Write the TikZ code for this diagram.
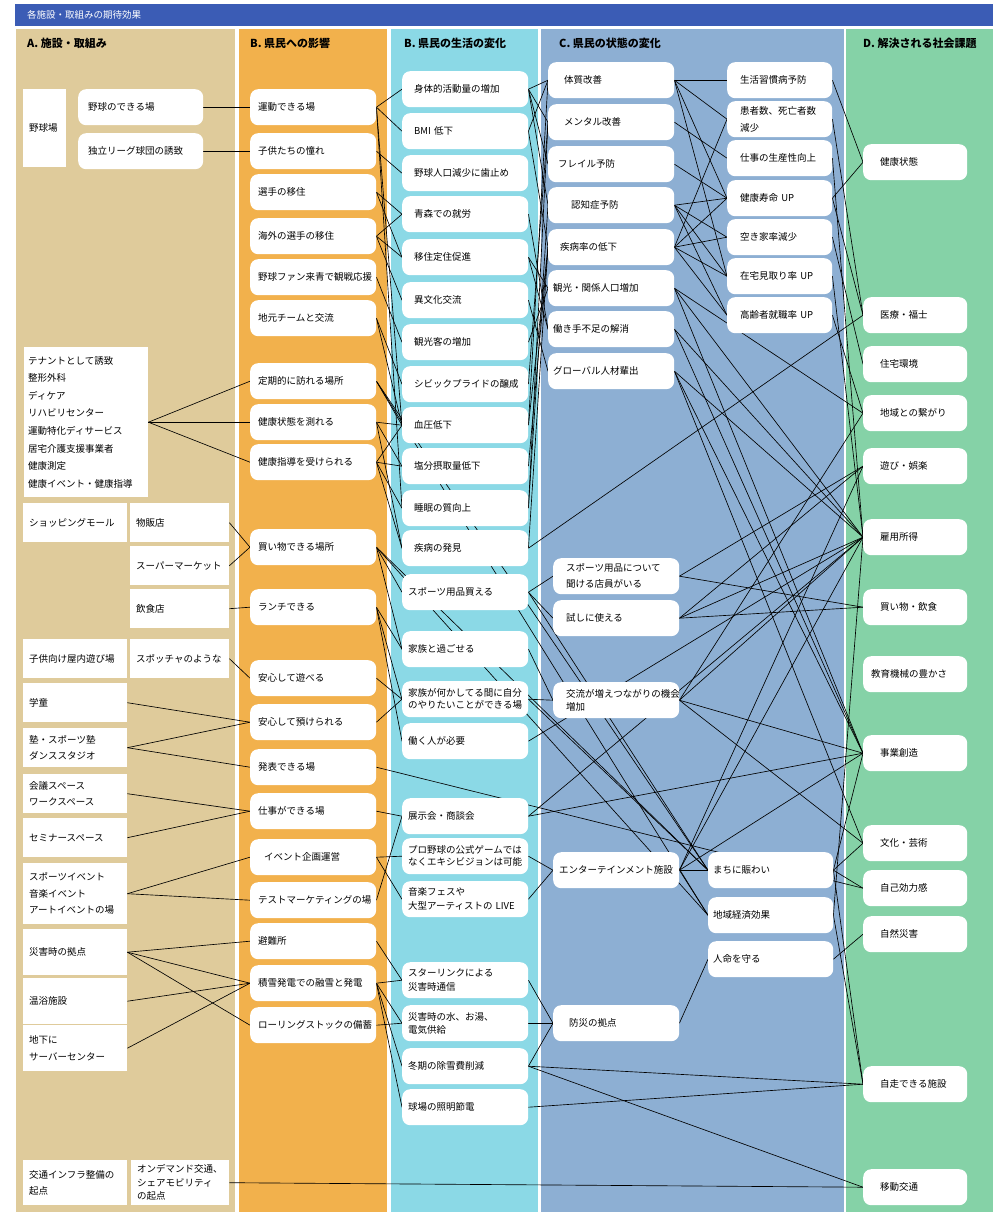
\documentclass[tikz,border=0pt]{standalone}
\usepackage{fontspec}
\setmainfont{Noto Sans CJK JP}

\definecolor{cBar}{RGB}{59,92,181}
\definecolor{cA}{RGB}{223,203,155}
\definecolor{cB}{RGB}{242,177,76}
\definecolor{cL}{RGB}{139,217,230}
\definecolor{cC}{RGB}{141,175,211}
\definecolor{cD}{RGB}{133,210,167}

\pgfdeclarelayer{bg}
\pgfdeclarelayer{wires}
\pgfsetlayers{bg,wires,main}

\tikzset{
  every node/.style={font=\fontsize{9.5}{13}\selectfont},
  sq/.style={fill=white, anchor=north west, align=left, inner ysep=1pt, inner xsep=6pt},
  rd/.style={sq, rounded corners=8pt, minimum height=36pt},
  boxA/.style={rd, text width=105pt, inner xsep=10pt},
  boxB/.style={rd, text width=110pt, inner xsep=8pt},
  boxL/.style={rd, text width=102pt, inner xsep=12pt},
  boxLb/.style={rd, text width=114pt, inner xsep=6pt},
  boxS/.style={rd, text width=116pt, inner xsep=5pt},
  boxR/.style={rd, text width=79pt, inner xsep=13pt},
  boxRb/.style={rd, text width=115pt, inner xsep=5pt},
  boxD/.style={rd, text width=70pt, inner xsep=17pt},
  head/.style={anchor=west, inner sep=0pt, font=\bfseries\fontsize{11}{12}\selectfont},
  sp/.style={font=\fontsize{9.5}{#1}\selectfont},
  wire/.style={line width=0.65pt}
}

\begin{document}
\begin{tikzpicture}[x=1pt, y=-1pt]
\useasboundingbox (0,0) rectangle (998,1212);

% columns
\begin{pgfonlayer}{bg}
\fill[cBar] (15,4) rectangle (993,26);
\fill[cA] (16,29) rectangle (235,1212);
\fill[cB] (239,29) rectangle (387,1212);
\fill[cL] (391,29) rectangle (538,1212);
\fill[cC] (541,29) rectangle (844,1212);
\fill[cD] (846,29) rectangle (993,1212);
\end{pgfonlayer}

\node(ttl)[anchor=west, inner sep=0pt, text=white, font=\fontsize{9.5}{11}\selectfont] at (27,15) {各施設・取組みの期待効果};
\node(hA)[head] at (27,43) {A. 施設・取組み};
\node(hB)[head] at (250,43) {B. 県民への影響};
\node(hL)[head] at (404,43) {B. 県民の生活の変化};
\node(hC)[head] at (559,43) {C. 県民の状態の変化};
\node(hD)[head] at (863,43) {D. 解決される社会課題};

% A. facilities
\node(Ay)[sq, text width=31pt, minimum height=78pt] at (23,89) {野球場};
\node(A1)[boxA] at (78,89) {野球のできる場};
\node(A2)[boxA] at (78,133) {独立リーグ球団の誘致};
\node(At)[sq, text width=116pt, inner xsep=4pt, minimum height=150pt, sp=17.6] at (24,347)
  {テナントとして誘致\\整形外科\\ディケア\\リハビリセンター\\運動特化ディサービス\\居宅介護支援事業者\\健康測定\\健康イベント・健康指導};
\node(Am)[sq, text width=92pt, minimum height=39pt] at (23,503) {ショッピングモール};
\node(A3)[sq, text width=87pt, minimum height=39pt] at (130,503) {物販店};
\node(A4)[sq, text width=87pt, minimum height=39pt] at (130,546) {スーパーマーケット};
\node(A5)[sq, text width=87pt, minimum height=39pt] at (130,589) {飲食店};
\node(Ak)[sq, text width=92pt, minimum height=39pt] at (23,639) {子供向け屋内遊び場};
\node(A6)[sq, text width=87pt, minimum height=39pt] at (130,639) {スポッチャのような};
\node(A7)[sq, text width=92pt, minimum height=39pt] at (23,683) {学童};
\node(A8)[sq, text width=92pt, minimum height=39pt, sp=16] at (23,728) {塾・スポーツ塾\\ダンススタジオ};
\node(A9)[sq, text width=92pt, minimum height=39pt, sp=16] at (23,774) {会議スペース\\ワークスペース};
\node(A10)[sq, text width=92pt, minimum height=39pt] at (23,818) {セミナースペース};
\node(A11)[sq, text width=92pt, minimum height=61pt, sp=16.5] at (23,863) {スポーツイベント\\音楽イベント\\アートイベントの場};
\node(A12)[sq, text width=92pt, minimum height=46pt] at (23,929) {災害時の拠点};
\node(A13)[sq, text width=92pt, minimum height=46pt] at (23,978) {温浴施設};
\node(A14)[sq, text width=92pt, minimum height=46pt, sp=17] at (23,1025) {地下に\\サーバーセンター};
\node(Ai)[sq, text width=92pt, minimum height=45pt, sp=16] at (23,1160) {交通インフラ整備の\\起点};
\node(A15)[sq, text width=86pt, minimum height=45pt, sp=13.5] at (131,1160) {オンデマンド交通、\\シェアモビリティ\\の起点};

% B. effects
\node(P1)[boxB] at (250,89) {運動できる場};
\node(P2)[boxB] at (250,133) {子供たちの憧れ};
\node(P3)[boxB] at (250,174) {選手の移住};
\node(P4)[boxB] at (250,218) {海外の選手の移住};
\node(P5)[boxB] at (250,259) {野球ファン来青で観戦応援};
\node(P6)[boxB] at (250,300) {地元チームと交流};
\node(P7)[boxB] at (250,363) {定期的に訪れる場所};
\node(P8)[boxB] at (250,404) {健康状態を測れる};
\node(P9)[boxB] at (250,444) {健康指導を受けられる};
\node(P10)[boxB] at (250,529) {買い物できる場所};
\node(P11)[boxB] at (250,589) {ランチできる};
\node(P12)[boxB] at (250,660) {安心して遊べる};
\node(P13)[boxB] at (250,704) {安心して預けられる};
\node(P14)[boxB] at (250,749) {発表できる場};
\node(P15)[boxB] at (250,793) {仕事ができる場};
\node(P16)[boxB] at (250,839) {\hspace*{6pt}イベント企画運営};
\node(P17)[boxB] at (250,882) {テストマーケティングの場};
\node(P18)[boxB] at (250,923) {避難所};
\node(P19)[boxB] at (250,965) {積雪発電での融雪と発電};
\node(P20)[boxB] at (250,1007) {ローリングストックの備蓄};

% B. life changes
\node(L1)[boxL] at (402,71) {身体的活動量の増加};
\node(L2)[boxL] at (402,113) {BMI 低下};
\node(L3)[boxL] at (402,155) {野球人口減少に歯止め};
\node(L4)[boxL] at (402,196) {青森での就労};
\node(L5)[boxL] at (402,239) {移住定住促進};
\node(L6)[boxL] at (402,282) {異文化交流};
\node(L7)[boxL] at (402,324) {観光客の増加};
\node(L8)[boxL] at (402,366) {シビックプライドの醸成};
\node(L9)[boxL] at (402,407) {血圧低下};
\node(L10)[boxL] at (402,448) {塩分摂取量低下};
\node(L11)[boxL] at (402,490) {睡眠の質向上};
\node(L12)[boxL] at (402,530) {疾病の発見};
\node(L13)[boxLb] at (402,574) {スポーツ用品買える};
\node(L14)[boxLb] at (402,631) {家族と過ごせる};
\node(L15)[boxLb, sp=12] at (402,681) {家族が何かしてる間に自分\\のやりたいことができる場};
\node(L16)[boxLb] at (402,723) {働く人が必要};
\node(L17)[boxLb] at (402,798) {展示会・商談会};
\node(L18)[boxLb, sp=12] at (402,838) {プロ野球の公式ゲームでは\\なくエキシビジョンは可能};
\node(L19)[boxLb, sp=14] at (402,881) {音楽フェスや\\大型アーティストの LIVE};
\node(L20)[boxLb, sp=14] at (402,962) {スターリンクによる\\災害時通信};
\node(L21)[boxLb, sp=13] at (402,1005) {災害時の水、お湯、\\電気供給};
\node(L22)[boxLb] at (402,1048) {冬期の除雪費削減};
\node(L23)[boxLb] at (402,1089) {球場の照明節電};

% C. state changes
\node(S1)[boxS] at (548,62) {\hspace*{11pt}体質改善};
\node(S2)[boxS] at (548,104) {\hspace*{11pt}メンタル改善};
\node(S3)[boxS] at (548,146) {\hspace*{5pt}フレイル予防};
\node(S4)[boxS] at (548,187) {\hspace*{18pt}認知症予防};
\node(S5)[boxS] at (548,229) {\hspace*{7pt}疾病率の低下};
\node(S6)[boxS] at (548,270) {観光・関係人口増加};
\node(S7)[boxS] at (548,311) {働き手不足の解消};
\node(S8)[boxS] at (548,353) {グローバル人材輩出};
\node(U1)[boxS, sp=16] at (553,558) {\hspace*{8pt}スポーツ用品について\\\hspace*{8pt}聞ける店員がいる};
\node(U2)[boxS] at (553,600) {\hspace*{8pt}試しに使える};
\node(U3)[boxS, sp=13] at (553,682) {\hspace*{8pt}交流が増えつながりの機会\\\hspace*{8pt}増加};
\node(U4)[boxS] at (553,852) {\hspace*{1pt}エンターテインメント施設};
\node(U5)[boxS] at (553,1005) {\hspace*{11pt}防災の拠点};

\node(R1)[boxR] at (727,62) {生活習慣病予防};
\node(R2)[boxR, sp=17] at (727,101) {患者数、死亡者数\\減少};
\node(R3)[boxR] at (727,140) {仕事の生産性向上};
\node(R4)[boxR] at (727,180) {健康寿命 UP};
\node(R5)[boxR] at (727,219) {空き家率減少};
\node(R6)[boxR] at (727,258) {在宅見取り率 UP};
\node(R7)[boxR] at (727,297) {高齢者就職率 UP};
\node(R8)[boxRb] at (708,852) {まちに賑わい};
\node(R9)[boxRb] at (708,897) {地域経済効果};
\node(R10)[boxRb] at (708,941) {人命を守る};

% D. social issues
\node(D1)[boxD] at (863,144) {健康状態};
\node(D2)[boxD] at (863,297) {医療・福士};
\node(D3)[boxD] at (863,346) {住宅環境};
\node(D4)[boxD] at (863,395) {地域との繋がり};
\node(D5)[boxD] at (863,448) {遊び・娯楽};
\node(D6)[boxD] at (863,519) {雇用所得};
\node(D7)[boxD] at (863,589) {買い物・飲食};
\node(D8)[boxD, inner xsep=8pt, text width=88pt] at (863,656) {教育機械の豊かさ};
\node(D9)[boxD] at (863,735) {事業創造};
\node(D10)[boxD] at (863,825) {文化・芸術};
\node(D11)[boxD] at (863,870) {自己効力感};
\node(D12)[boxD] at (863,916) {自然災害};
\node(D13)[boxD] at (863,1066) {自走できる施設};
\node(D14)[boxD] at (863,1169) {移動交通};

\begin{pgfonlayer}{wires}
% A -> B
\draw[wire] (A1.east) -- (P1.west);
\draw[wire] (A2.east) -- (P2.west);
\draw[wire] (At.east) edge (P7.west) edge (P8.west) edge (P9.west);
\draw[wire] (A3.east) -- (P10.west);
\draw[wire] (A4.east) -- (P10.west);
\draw[wire] (A5.east) -- (P11.west);
\draw[wire] (A6.east) -- (P12.west);
\draw[wire] (A7.east) -- (P13.west);
\draw[wire] (A8.east) edge (P13.west) edge (P14.west);
\draw[wire] (A9.east) -- (P15.west);
\draw[wire] (A10.east) -- (P15.west);
\draw[wire] (A11.east) edge (P16.west) edge (P17.west);
\draw[wire] (A12.east) edge (P18.west) edge (P19.west) edge (P20.west);
\draw[wire] (A13.east) -- (P19.west);
\draw[wire] (A14.east) -- (P19.west);
\draw[wire] (A15.east) -- (D14.west);
% B -> B
\draw[wire] (P1.east) edge (L1.west) edge (L2.west) edge (L9.west) edge (L11.west);
\draw[wire] (P2.east) -- (L3.west);
\draw[wire] (P3.east) edge (L4.west) edge (L5.west);
\draw[wire] (P4.east) edge (L4.west) edge (L5.west) edge (L6.west);
\draw[wire] (P5.east) -- (L7.west);
\draw[wire] (P6.east) edge (L8.west) edge (L9.west);
\draw[wire] (P7.east) edge (L9.west) edge (R8.west) edge (R9.west);
\draw[wire] (P8.east) edge (L9.west) edge (L10.west) edge (L12.west);
\draw[wire] (P9.east) edge (L9.west) edge (L10.west) edge (L11.west) edge (L12.west);
\draw[wire] (P10.east) edge (L13.west) edge (L14.west) edge (R8.west) edge (R9.west);
\draw[wire] (P11.east) edge (L14.west) edge (L15.west) edge (L16.west);
\draw[wire] (P12.east) -- (L15.west);
\draw[wire] (P13.east) -- (L15.west);
\draw[wire] (P14.east) -- (D11.west);
\draw[wire] (P15.east) -- (L17.west);
\draw[wire] (P16.east) edge (L18.west) edge (L19.west);
\draw[wire] (P17.east) -- (L17.west);
\draw[wire] (P18.east) -- (L20.west);
\draw[wire] (P19.east) edge (L20.west) edge (L21.west) edge (L22.west) edge (L23.west);
\draw[wire] (P20.east) -- (L21.west);
% B -> C
\draw[wire] (L1.east) edge (S1.west) edge (S2.west) edge (S3.west) edge (S4.west);
\draw[wire] (L2.east) edge (S1.west) edge (S5.west);
\draw[wire] (L4.east) -- (S7.west);
\draw[wire] (L5.east) edge (S6.west) edge (S7.west);
\draw[wire] (L6.east) -- (S8.west);
\draw[wire] (L7.east) -- (S6.west);
\draw[wire] (L8.east) -- (S2.west);
\draw[wire] (L9.east) edge (S1.west) edge (S5.west);
\draw[wire] (L10.east) -- (S5.west);
\draw[wire] (L11.east) edge (S2.west) edge (S4.west);
\draw[wire] (L12.east) edge (S5.west) edge (D2.west);
\draw[wire] (L13.east) edge (U1.west) edge (U2.west) edge (R8.west);
\draw[wire] (L14.east) -- (U3.west);
\draw[wire] (L15.east) edge (U3.west) edge (R8.west);
\draw[wire] (L16.east) -- (D6.west);
\draw[wire] (L17.east) edge (D6.west) edge (D9.west);
\draw[wire] (L18.east) -- (U4.west);
\draw[wire] (L19.east) -- (U4.west);
\draw[wire] (L20.east) -- (U5.west);
\draw[wire] (L21.east) -- (U5.west);
\draw[wire] (L22.east) edge (U5.west) edge (D13.west) edge (D14.west);
\draw[wire] (L23.east) -- (D13.west);
% C -> C
\draw[wire] (S1.east) edge (R1.west) edge (R2.west) edge (R4.west) edge (R6.west);
\draw[wire] (S2.east) -- (R3.west);
\draw[wire] (S3.east) -- (R4.west);
\draw[wire] (S4.east) edge (R4.west) edge (R5.west) edge (R6.west) edge (R7.west);
\draw[wire] (S5.east) edge (R2.west) edge (R4.west) edge (R5.west) edge (R6.west) edge (R7.west);
\draw[wire] (U4.east) edge (R8.west) edge (R9.west);
\draw[wire] (U5.east) -- (R10.west);
% C -> D
\draw[wire] (S6.east) edge (D4.west) edge (D6.west) edge (D9.west);
\draw[wire] (S7.east) edge (D6.west) edge (D9.west);
\draw[wire] (S8.east) edge (D6.west) edge (D9.west) edge (D10.west);
\draw[wire] (R1.east) -- (D1.west);
\draw[wire] (R2.east) -- (D2.west);
\draw[wire] (R3.east) -- (D6.west);
\draw[wire] (R4.east) edge (D1.west) edge (D2.west);
\draw[wire] (R5.east) -- (D3.west);
\draw[wire] (R6.east) -- (D6.west);
\draw[wire] (R7.east) -- (D4.west);
\draw[wire] (U1.east) edge (D5.west) edge (D7.west);
\draw[wire] (U2.east) edge (D5.west) edge (D6.west) edge (D7.west);
\draw[wire] (U3.east) edge (D4.west) edge (D6.west) edge (D9.west) edge (D10.west);
\draw[wire] (U4.east) edge (D5.west) edge (D6.west) edge (D9.west);
\draw[wire] (R8.east) edge (D9.west) edge (D10.west) edge (D11.west) edge (D13.west);
\draw[wire] (R9.east) edge (D6.west) edge (D13.west);
\draw[wire] (R10.east) -- (D12.west);
\end{pgfonlayer}
\end{tikzpicture}
\end{document}
